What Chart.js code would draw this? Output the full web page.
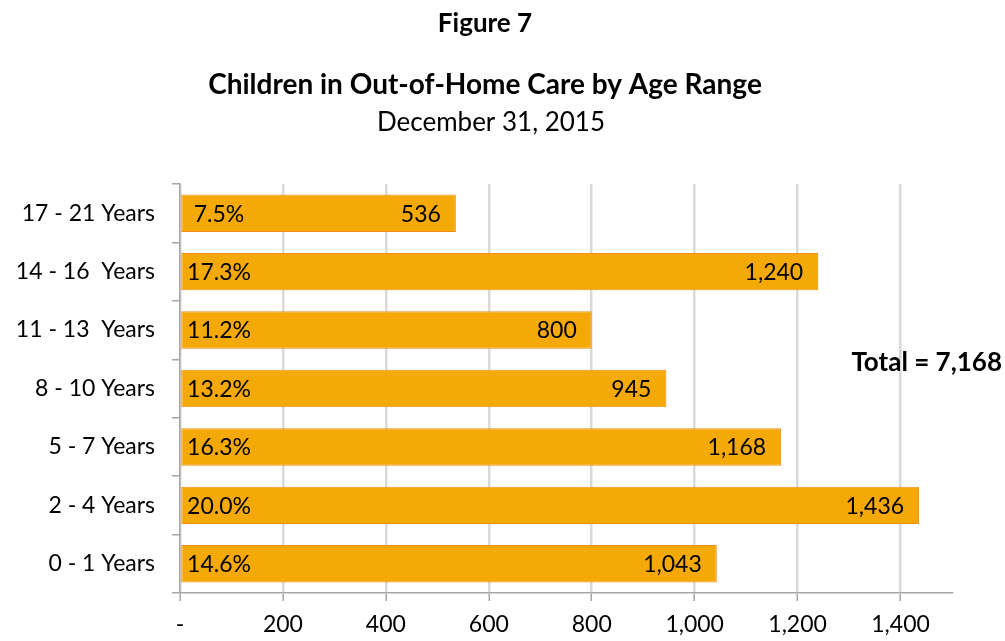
<!DOCTYPE html>
<html>
<head>
<meta charset="utf-8">
<script src="https://cdn.jsdelivr.net/npm/chart.js@4/dist/chart.umd.min.js"></script>
<style>
  html, body { margin: 0; padding: 0; background: #fff; }
  #wrap { position: relative; width: 1005px; height: 641px; }
</style>
</head>
<body>
<div id="wrap"><canvas id="chart" width="1005" height="641"></canvas></div>
<script>
// data (bottom to top)
const ageRanges = ["0 - 1 Years", "2 - 4 Years", "5 - 7 Years", "8 - 10 Years", "11 - 13  Years", "14 - 16  Years", "17 - 21 Years"];
const children = [1043, 1436, 1168, 945, 800, 1240, 536];
const shares = ["14.6%", "20.0%", "16.3%", "13.2%", "11.2%", "17.3%", "7.5%"];
const totalLabel = "Total = 7,168";

const FONT = "Lato, 'Open Sans', sans-serif";
const fmt = v => v === 0 ? "-" : v.toLocaleString("en-US");

// titles, total box and bar labels
const labelsPlugin = {
  id: "labels",
  afterDraw(chart) {
    const ctx = chart.ctx;
    const x = chart.scales.x;
    const meta = chart.getDatasetMeta(0);
    ctx.save();
    ctx.fillStyle = "#000";
    ctx.textBaseline = "middle";
    ctx.font = "23px " + FONT;
    meta.data.forEach((bar, i) => {
      ctx.textAlign = "center";
      ctx.fillText(shares[i], x.getPixelForValue(0) + 39, bar.y + 1);
      ctx.textAlign = "right";
      ctx.fillText(fmt(children[i]), bar.x - 15, bar.y + 1);
    });

    ctx.textBaseline = "alphabetic";
    ctx.textAlign = "center";
    ctx.font = "bold 26px " + FONT;
    ctx.fillText("Figure 7", 485, 32);
    ctx.font = "bold 28px " + FONT;
    ctx.fillText("Children in Out-of-Home Care by Age Range", 485, 94);
    ctx.font = "26px " + FONT;
    ctx.fillText("December 31, 2015", 491, 131);

    ctx.textAlign = "right";
    ctx.font = "bold 26px " + FONT;
    ctx.fillText(totalLabel, 1002, 371);
    ctx.restore();
  }
};

new Chart(document.getElementById("chart"), {
  type: "bar",
  data: {
    labels: ageRanges,
    datasets: [{
      data: children,
      backgroundColor: "#F4A906",
      borderColor: "#EF8F1A",
      borderWidth: 1,
      borderSkipped: false,
      categoryPercentage: 1,
      barPercentage: 0.64
    }]
  },
  options: {
    indexAxis: "y",
    responsive: false,
    animation: false,
    layout: { padding: { top: 184, right: 53, left: 0, bottom: 0 } },
    plugins: {
      legend: { display: false },
      title: { display: false },
      tooltip: { enabled: false }
    },
    scales: {
      x: {
        min: 0,
        max: 1500,
        afterBuildTicks: axis => {
          axis.ticks = axis.ticks.filter(t => t.value % 200 === 0);
        },
        afterFit: axis => { axis.height = 48; },
        ticks: {
          stepSize: 100,
          callback: v => fmt(v),
          color: "#000",
          font: { family: FONT, size: 23 },
          padding: 10,
          maxRotation: 0
        },
        grid: {
          color: "#d9d9d9",
          lineWidth: 2.5,
          tickColor: "#a6a6a6",
          tickLength: 8,
          tickWidth: 1.5
        },
        border: { display: true, color: "#a6a6a6", width: 1.5 }
      },
      y: {
        reverse: true,
        afterFit: axis => { axis.width = 180; },
        ticks: {
          color: "#000",
          font: { family: FONT, size: 23 },
          padding: 17
        },
        grid: {
          offset: true,
          drawOnChartArea: false,
          color: "#a6a6a6",
          tickLength: 8,
          lineWidth: 1.5
        },
        border: { display: true, color: "#a6a6a6", width: 1.5 }
      }
    }
  },
  plugins: [labelsPlugin]
});
</script>
</body>
</html>
